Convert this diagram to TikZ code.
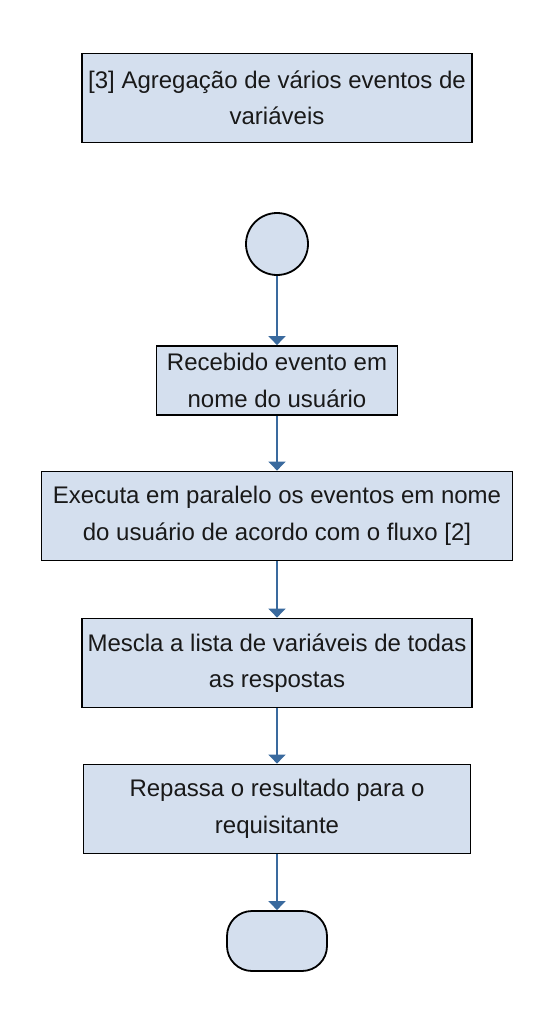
\documentclass[tikz,border=0pt]{standalone}
\usepackage{fontspec}
\setmainfont{Liberation Sans}
\usetikzlibrary{arrows.meta}
\definecolor{boxfill}{HTML}{D4DFEE}
\definecolor{flowblue}{HTML}{3A6A9E}

\begin{document}
\begin{tikzpicture}[x=1pt, y=-1pt,
    every node/.style={font=\fontsize{24}{36.5}\selectfont, align=center, text=black!90},
    stepbox/.style={draw=black, line width=1.8pt, fill=boxfill, inner sep=0pt},
    flow/.style={draw=flowblue, line width=1.8pt, -{Triangle[width=17pt, length=9pt, fill=flowblue]}}]
    \useasboundingbox (0, 0) rectangle (552, 1035);

    % title
    \node[stepbox, minimum width=390pt, minimum height=89pt] (title) at (277, 98) {[3] Agregação de vários eventos de\\variáveis};

    % start and end
    \node[stepbox, circle, minimum size=62pt] (start) at (277, 244) {};
    \node[stepbox, rounded corners=25pt, minimum width=100pt, minimum height=60pt] (stop) at (277, 941) {};

    % steps
    \node[stepbox, minimum width=241pt, minimum height=69pt] (recv) at (277, 380.5) {Recebido evento em\\nome do usuário};
    \node[stepbox, minimum width=471pt, minimum height=89pt] (exec) at (277, 516) {Executa em paralelo os eventos em nome\\do usuário de acordo com o fluxo [2]};
    \node[stepbox, minimum width=390pt, minimum height=89pt] (merge) at (277, 663) {Mescla a lista de variáveis de todas\\as respostas};
    \node[stepbox, minimum width=387pt, minimum height=89pt] (reply) at (277, 809) {Repassa o resultado para o\\requisitante};

    % flow
    \draw[flow] (start) -- (recv);
    \draw[flow] (recv) -- (exec);
    \draw[flow] (exec) -- (merge);
    \draw[flow] (merge) -- (reply);
    \draw[flow] (reply) -- (stop);
\end{tikzpicture}
\end{document}
